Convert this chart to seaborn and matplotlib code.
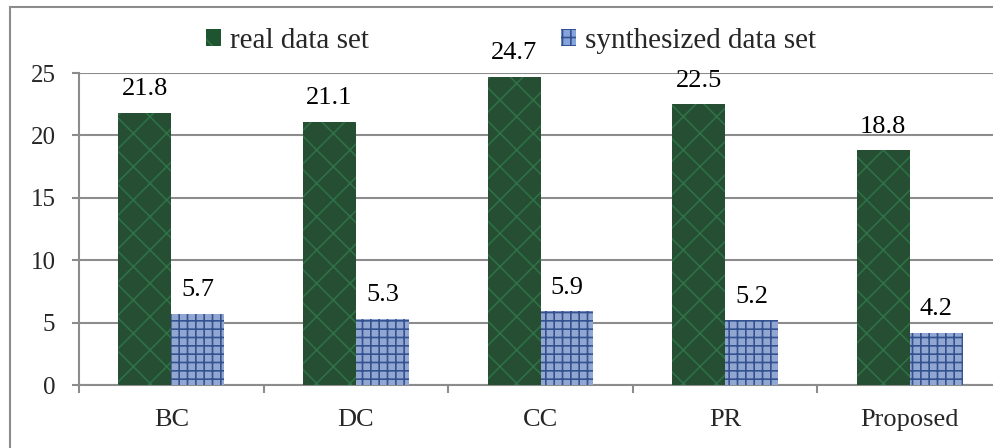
import matplotlib
matplotlib.use("Agg")
import matplotlib.pyplot as plt
import seaborn as sns
import pandas as pd
from matplotlib.patches import Patch, Rectangle

categories = ["BC", "DC", "CC", "PR", "Proposed"]
real_values = [21.8, 21.1, 24.7, 22.5, 18.8]
synth_values = [5.7, 5.3, 5.9, 5.2, 4.2]
series_names = ["real data set", "synthesized data set"]
yticks = [0, 5, 10, 15, 20, 25]

df = pd.DataFrame({
    "category": categories * 2,
    "series": [series_names[0]] * len(categories) + [series_names[1]] * len(categories),
    "value": real_values + synth_values,
})

sns.set_theme(style="white")
plt.rcParams["font.family"] = ["Liberation Serif", "DejaVu Serif"]
plt.rcParams["hatch.linewidth"] = 1.2

green = "#1e5530"
blue = "#86a4dc"
green_tex = "#2f7046"
blue_tex = "#34528f"

fig = plt.figure(figsize=(9.93, 4.48), dpi=100)
ax = fig.add_axes([79 / 993, 1 - 385 / 448, (1002 - 79) / 993, (385 - 73) / 448])

sns.barplot(data=df, x="category", y="value", hue="series", order=categories,
            hue_order=series_names, palette={series_names[0]: green, series_names[1]: blue},
            width=0.574, gap=0, ax=ax, zorder=3, linewidth=0)

styles = [(green, green_tex, "x"), (blue, blue_tex, "++")]
for cont, (fc, hc, h) in zip(ax.containers, styles):
    for p in cont:
        p.set_hatch(h)
        p.set_edgecolor(hc)
        p.set_linewidth(0)
    ax.bar_label(cont, fmt="%.1f", padding=9, fontsize=19, color="black")

if ax.legend_ is not None:
    ax.legend_.remove()

ax.set_ylim(0, 25)
ax.set_yticks(yticks)
ax.set_xlim(-0.5, len(categories) - 0.5)
ax.set_xlabel("")
ax.set_ylabel("")
ax.grid(axis="y", color="#8c8c8c", linewidth=1.5, zorder=0)
ax.grid(axis="x", visible=False)
ax.set_axisbelow(True)

for s in ["top", "right"]:
    ax.spines[s].set_visible(False)
for s in ["left", "bottom"]:
    ax.spines[s].set_visible(True)
    ax.spines[s].set_color("#8c8c8c")
    ax.spines[s].set_linewidth(1.5)

ax.tick_params(axis="y", which="major", length=5, width=1.5, color="#8c8c8c",
               direction="out", pad=12, labelsize=18, left=True)
ax.tick_params(axis="x", which="major", length=0, pad=17, labelsize=19)
ax.set_xticks([i + 0.5 for i in range(len(categories) - 1)] + [-0.5], minor=True)
ax.tick_params(axis="x", which="minor", length=6, width=1.5, color="#8c8c8c",
               direction="out", bottom=True)

handles = [Patch(facecolor=green, edgecolor=green_tex, hatch="x", linewidth=0),
           Patch(facecolor=blue, edgecolor=blue_tex, hatch="++", linewidth=0)]
fig.legend(handles, series_names, loc="center", bbox_to_anchor=(511 / 993, 1 - 41 / 448),
           ncol=2, frameon=False, fontsize=21, handlelength=0.5, handleheight=0.5,
           handletextpad=0.3, columnspacing=6.6)

fig.patches.append(Rectangle((10 / 993, -0.1), 1.2, 1.1 - 7 / 448, transform=fig.transFigure,
                             fill=False, edgecolor="#8c8c8c", linewidth=1.5, zorder=10))

fig.savefig("out.png", dpi=100)
